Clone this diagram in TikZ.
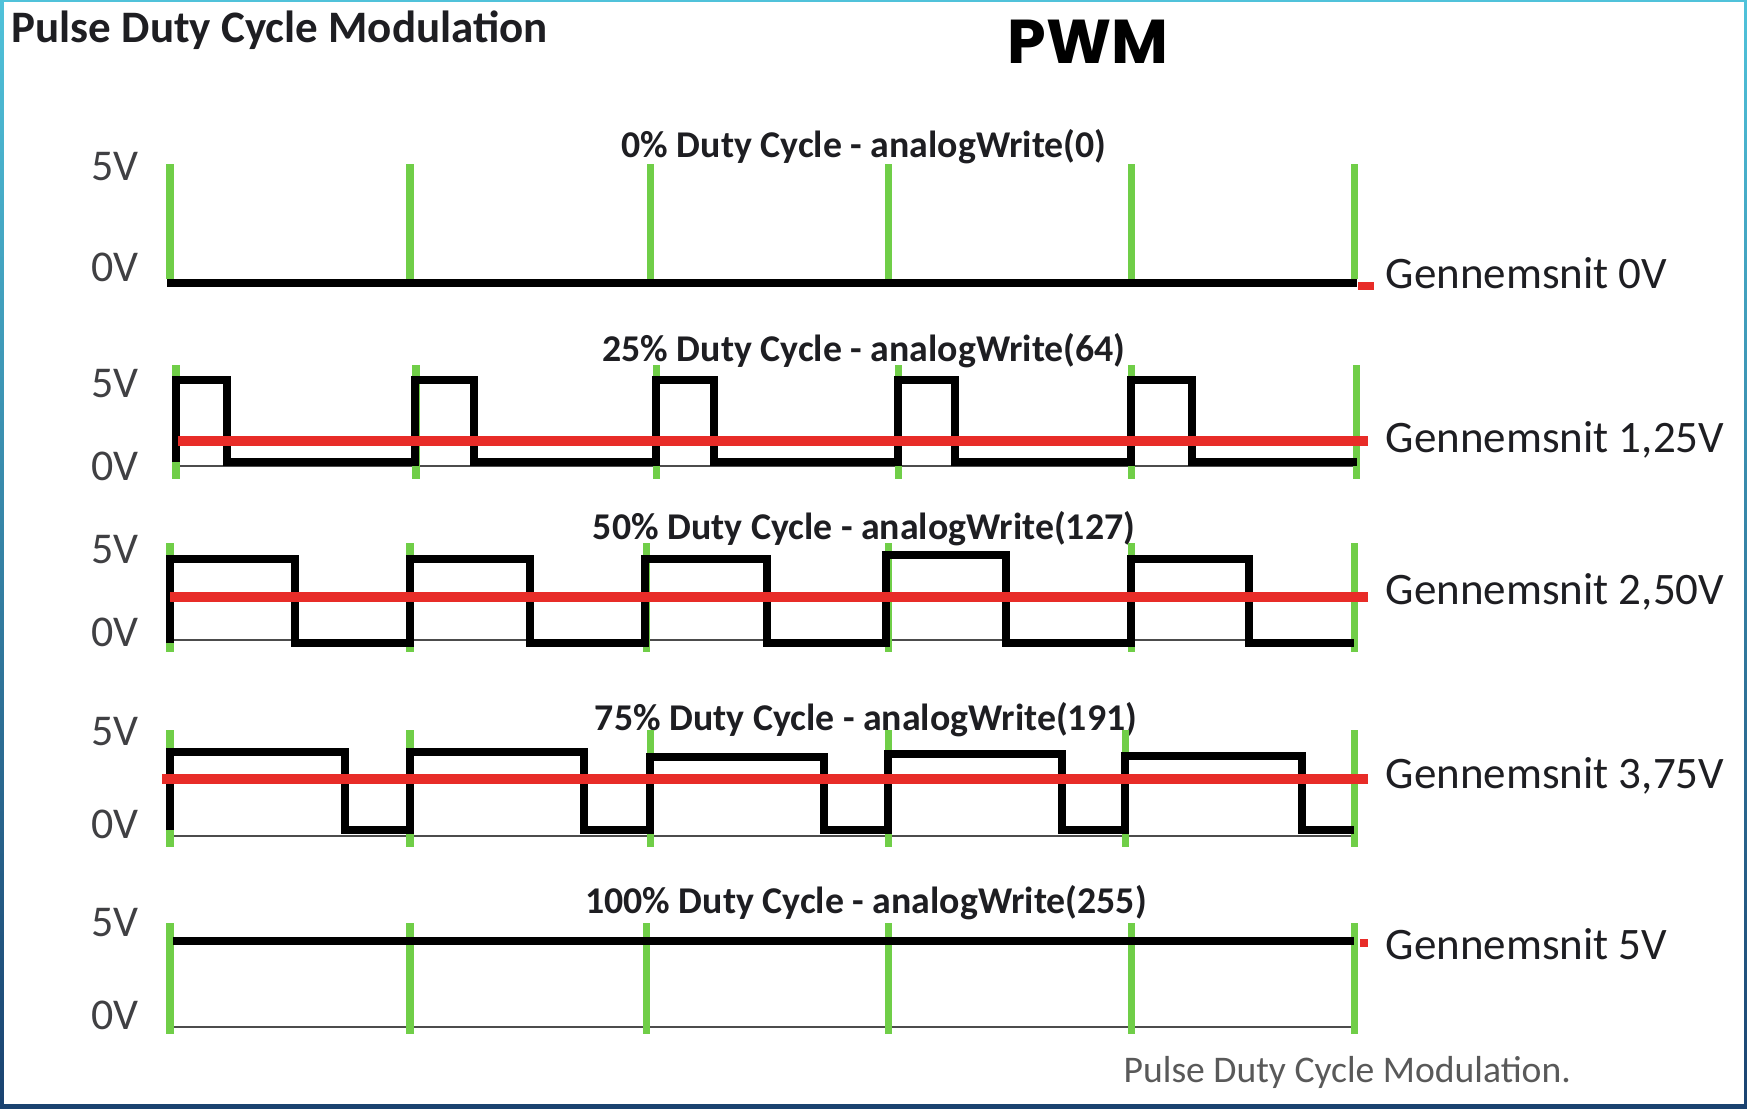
\documentclass[tikz,border=0pt]{standalone}
\usepackage{fontspec}
\setmainfont{Carlito}
\newfontfamily\pwmfont{Poppins}
\definecolor{tickgreen}{RGB}{112,206,72}
\definecolor{avgred}{RGB}{232,44,40}
\definecolor{txtdark}{RGB}{30,30,34}
\definecolor{framecyan}{RGB}{80,194,218}
\definecolor{frameblue}{RGB}{26,66,112}
\tikzset{
  tickline/.style={line width=0.07cm,draw=tickgreen},
  sigline/.style={line width=0.08cm,draw=black},
  avgline/.style={line width=0.1cm,draw=avgred},
  zeroline/.style={line width=0.02cm,draw=black!70},
  volt/.style={anchor=east,inner sep=0,text=txtdark!85,font=\fontsize{12.5}{14}\selectfont},
  dutytitle/.style={anchor=base,inner sep=0,text=txtdark,font=\fontsize{10.75}{12}\selectfont\bfseries},
  avglabel/.style={anchor=base west,inner sep=0,text=txtdark,font=\fontsize{12.8}{14}\selectfont}
}
\begin{document}
\begin{tikzpicture}[x=0.01cm,y=-0.01cm]
  \useasboundingbox (0,0) rectangle (1747,1109);
  \shade[top color=framecyan,bottom color=frameblue] (0,0) rectangle (1747,1109);
  \fill[white] (4,2) rectangle (1744,1104);

  \node[anchor=base west,inner sep=0,text=txtdark,font=\fontsize{12.8}{15}\selectfont\bfseries] (ttl) at (11,43) {Pulse Duty Cycle Modulation};
  \node[anchor=base,inner sep=0,font=\fontsize{17.6}{20}\selectfont\pwmfont\bfseries] (pwm) at (1088,64) {PWM};

  \begin{scope}[every node/.style={volt}]
    \node (hiA) at (139,167) {5V};
    \node (loA) at (139,267) {0V};
    \node (hiB) at (139,384) {5V};
    \node (loB) at (139,466) {0V};
    \node (hiC) at (139,550) {5V};
    \node (loC) at (139,632) {0V};
    \node (hiD) at (139,732) {5V};
    \node (loD) at (139,824) {0V};
    \node (hiE) at (139,923) {5V};
    \node (loE) at (139,1015) {0V};
  \end{scope}

  \begin{scope}[every node/.style={dutytitle}]
    \node (d0) at (864,157) {0\% Duty Cycle - analogWrite(0)};
    \node (d25) at (864,361) {25\% Duty Cycle - analogWrite(64)};
    \node (d50) at (864,539) {50\% Duty Cycle - analogWrite(127)};
    \node (d75) at (866,730) {75\% Duty Cycle - analogWrite(191)};
    \node (d100) at (866,913) {100\% Duty Cycle - analogWrite(255)};
  \end{scope}

  \begin{scope}[every node/.style={avglabel}]
    \node (g0) at (1385,288) {Gennemsnit 0V};
    \node (g25) at (1385,452) {Gennemsnit 1,25V};
    \node (g50) at (1385,604) {Gennemsnit 2,50V};
    \node (g75) at (1385,788) {Gennemsnit 3,75V};
    \node (g100) at (1385,959) {Gennemsnit 5V};
  \end{scope}

  \node[anchor=base west,inner sep=0,text=black!65,font=\fontsize{10.7}{12}\selectfont] (cap) at (1123,1082) {Pulse Duty Cycle Modulation.};

  \draw[zeroline] (176,466) -- (1356,466);
  \draw[zeroline] (170,640) -- (1354,640);
  \draw[zeroline] (170,836) -- (1354,836);
  \draw[zeroline] (170,1027) -- (1354,1027);

  \draw[tickline] (170,164) -- (170,279) (410,164) -- (410,279) (650,164) -- (650,279)
    (888,164) -- (888,279) (1131,164) -- (1131,279) (1354,164) -- (1354,279);
  \draw[tickline] (176,365) -- (176,479) (416,365) -- (416,479) (656,365) -- (656,479)
    (898,365) -- (898,479) (1131,365) -- (1131,479) (1356,365) -- (1356,479);
  \draw[tickline] (170,543) -- (170,652) (410,543) -- (410,652) (646,543) -- (646,652)
    (888,543) -- (888,652) (1131,543) -- (1131,652) (1354,543) -- (1354,652);
  \draw[tickline] (170,730) -- (170,847) (410,730) -- (410,847) (650,730) -- (650,847)
    (888,730) -- (888,847) (1125,730) -- (1125,847) (1354,730) -- (1354,847);
  \draw[tickline] (170,923) -- (170,1034) (410,923) -- (410,1034) (646,923) -- (646,1034)
    (888,923) -- (888,1034) (1131,923) -- (1131,1034) (1354,923) -- (1354,1034);

  \draw[sigline] (167,283) -- (1357,283);
  \draw[sigline] (176,462) -- (176,380) -- (227,380) -- (227,462) -- (415,462) -- (415,380)
    -- (474,380) -- (474,462) -- (656,462) -- (656,380) -- (714,380) -- (714,462)
    -- (898,462) -- (898,380) -- (955,380) -- (955,462) -- (1131,462) -- (1131,380)
    -- (1192,380) -- (1192,462) -- (1357,462);
  \draw[sigline] (170,643) -- (170,559) -- (295,559) -- (295,643) -- (410,643) -- (410,559)
    -- (530,559) -- (530,643) -- (645,643) -- (645,559) -- (767,559) -- (767,643)
    -- (886,643) -- (886,555) -- (1006,555) -- (1006,643) -- (1131,643) -- (1131,559)
    -- (1249,559) -- (1249,643) -- (1354,643);
  \draw[sigline] (170,830) -- (170,752) -- (345,752) -- (345,830) -- (410,830) -- (410,752)
    -- (584,752) -- (584,830) -- (650,830) -- (650,757) -- (824,757) -- (824,830)
    -- (888,830) -- (888,754) -- (1062,754) -- (1062,830) -- (1125,830) -- (1125,756)
    -- (1302,756) -- (1302,830) -- (1354,830);
  \draw[sigline] (173,941) -- (1354,941);

  \draw[avgline,line width=0.08cm] (1358,286) -- (1374,286);
  \draw[avgline] (178,441) -- (1368,441);
  \draw[avgline] (170,597) -- (1368,597);
  \draw[avgline] (162,779) -- (1368,779);
  \draw[avgline,line width=0.08cm] (1360,943) -- (1368,943);
\end{tikzpicture}
\end{document}
